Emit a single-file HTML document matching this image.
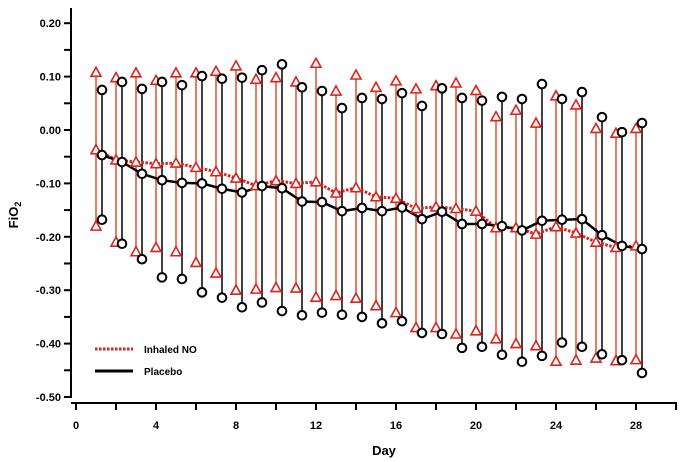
<!DOCTYPE html>
<html><head><meta charset="utf-8"><style>
html,body{margin:0;padding:0;background:#fff;}
svg{display:block;font-family:"Liberation Sans",Arial,sans-serif;}
</style></head><body>
<svg id="chart" width="685" height="462" viewBox="0 0 685 462"></svg>
<script>
const days=[1,2,3,4,5,6,7,8,9,10,11,12,13,14,15,16,17,18,19,20,21,22,23,24,25,26,27,28];
const noMean=[-0.037,-0.056,-0.06,-0.063,-0.062,-0.07,-0.078,-0.09,-0.104,-0.095,-0.1,-0.097,-0.118,-0.108,-0.125,-0.128,-0.147,-0.144,-0.147,-0.152,-0.183,-0.183,-0.195,-0.181,-0.193,-0.21,-0.22,-0.217];
const noHigh=[0.108,0.098,0.107,0.093,0.107,0.107,0.11,0.12,0.095,0.098,0.09,0.125,0.073,0.103,0.08,0.092,0.077,0.083,0.088,0.074,0.025,0.037,0.013,0.064,0.047,0.003,-0.006,0.003];
const noLow=[-0.18,-0.21,-0.228,-0.22,-0.228,-0.248,-0.268,-0.3,-0.298,-0.295,-0.296,-0.313,-0.31,-0.315,-0.329,-0.342,-0.37,-0.37,-0.382,-0.376,-0.391,-0.4,-0.404,-0.433,-0.431,-0.427,-0.432,-0.43];
const plMean=[-0.047,-0.06,-0.082,-0.094,-0.099,-0.1,-0.11,-0.117,-0.105,-0.109,-0.134,-0.135,-0.152,-0.146,-0.152,-0.145,-0.167,-0.153,-0.176,-0.176,-0.18,-0.188,-0.17,-0.168,-0.167,-0.197,-0.217,-0.223];
const plHigh=[0.075,0.09,0.077,0.09,0.084,0.101,0.096,0.098,0.112,0.123,0.08,0.073,0.041,0.06,0.058,0.069,0.045,0.078,0.06,0.055,0.062,0.058,0.086,0.058,0.071,0.024,-0.004,0.013];
const plLow=[-0.168,-0.213,-0.242,-0.276,-0.279,-0.304,-0.314,-0.332,-0.323,-0.339,-0.347,-0.342,-0.346,-0.35,-0.362,-0.358,-0.38,-0.382,-0.408,-0.406,-0.421,-0.434,-0.423,-0.398,-0.406,-0.42,-0.431,-0.455];
const yTicks=[0.2,0.1,0,-0.1,-0.2,-0.3,-0.4,-0.5];
const yTickLabels=["0.20","0.10","0.00","-0.10","-0.20","-0.30","-0.40","-0.50"];
const xTicks=[0,4,8,12,16,20,24,28];

const NS="http://www.w3.org/2000/svg";
const svg=document.getElementById('chart');
const X=d=>76+d*20.0;
const Y=v=>130-v*534;
function mk(t,a,p){const e=document.createElementNS(NS,t);for(const k in a)e.setAttribute(k,a[k]);(p||svg).appendChild(e);return e;}

// axes
const ya=mk('line',{x1:71,y1:8,x2:71,y2:398,stroke:'#000','stroke-width':2});


const xa=mk('line',{x1:71,y1:403,x2:677,y2:403,stroke:'#000','stroke-width':2});


for(let v=0.2;v>=-0.5001;v-=0.05){const y=Y(v);const t=mk('line',{x1:64,y1:y,x2:71,y2:y,stroke:'#000','stroke-width':2});

}
yTicks.forEach((v,i)=>{const t=mk('text',{x:61,y:Y(v)+4,'text-anchor':'end','font-size':11,'font-weight':'bold'});t.textContent=yTickLabels[i];

});
for(let d=0;d<=30;d+=2){const t=mk('line',{x1:X(d),y1:403,x2:X(d),y2:410,stroke:'#000','stroke-width':2});

}
xTicks.forEach(d=>{const t=mk('text',{x:X(d),y:429,'text-anchor':'middle','font-size':11,'font-weight':'bold'});t.textContent=d;

});
const xt=mk('text',{x:384,y:455,'text-anchor':'middle','font-size':13,'font-weight':'bold'});xt.textContent='Day';


const yt=mk('text',{x:18,y:215,'text-anchor':'middle','font-size':13,'font-weight':'bold',transform:'rotate(-90 18 215)'});
yt.innerHTML='FiO<tspan font-size="9" dy="3">2</tspan>';



const red='#e0201b';
// error bars
days.forEach((d,i)=>{const x=X(d);
const b=mk('line',{x1:x,y1:Y(noHigh[i]),x2:x,y2:Y(noLow[i]),stroke:'#e05030','stroke-width':1.5});


const x2=X(d+0.3);
const c=mk('line',{x1:x2,y1:Y(plHigh[i]),x2:x2,y2:Y(plLow[i]),stroke:'#000','stroke-width':1.5});

});
// mean lines
const lno=mk('polyline',{points:days.map((d,i)=>X(d)+','+Y(noMean[i])).join(' '),fill:'none',stroke:red,'stroke-width':3,'stroke-dasharray':'2.5 1.5'});


const lpl=mk('polyline',{points:days.map((d,i)=>X(d+0.3)+','+Y(plMean[i])).join(' '),fill:'none',stroke:'#000','stroke-width':2.5});


function tri(x,y){const t=mk('polygon',{points:`${x},${y-5} ${x-5},${y+4} ${x+5},${y+4}`,fill:'#fff',stroke:red,'stroke-width':1.6});

}
function circ(x,y){const c=mk('circle',{cx:x,cy:y,r:4.3,fill:'#fff',stroke:'#000','stroke-width':2});

}
days.forEach((d,i)=>{const x=X(d);tri(x,Y(noHigh[i]));tri(x,Y(noLow[i]));tri(x,Y(noMean[i]));
const x2=X(d+0.3);circ(x2,Y(plHigh[i]));circ(x2,Y(plLow[i]));circ(x2,Y(plMean[i]));});

// legend
const g=mk('g',{});


const l1=mk('line',{x1:95,y1:349,x2:133,y2:349,stroke:red,'stroke-width':3,'stroke-dasharray':'2.5 1.5'},g);


const t1=mk('text',{x:144,y:353,'font-size':10,'font-weight':'bold'},g);t1.textContent='Inhaled NO';


const l2=mk('line',{x1:95,y1:371,x2:133,y2:371,stroke:'#000','stroke-width':3},g);


const t2=mk('text',{x:144,y:375,'font-size':10,'font-weight':'bold'},g);t2.textContent='Placebo';


</script>
</body></html>
